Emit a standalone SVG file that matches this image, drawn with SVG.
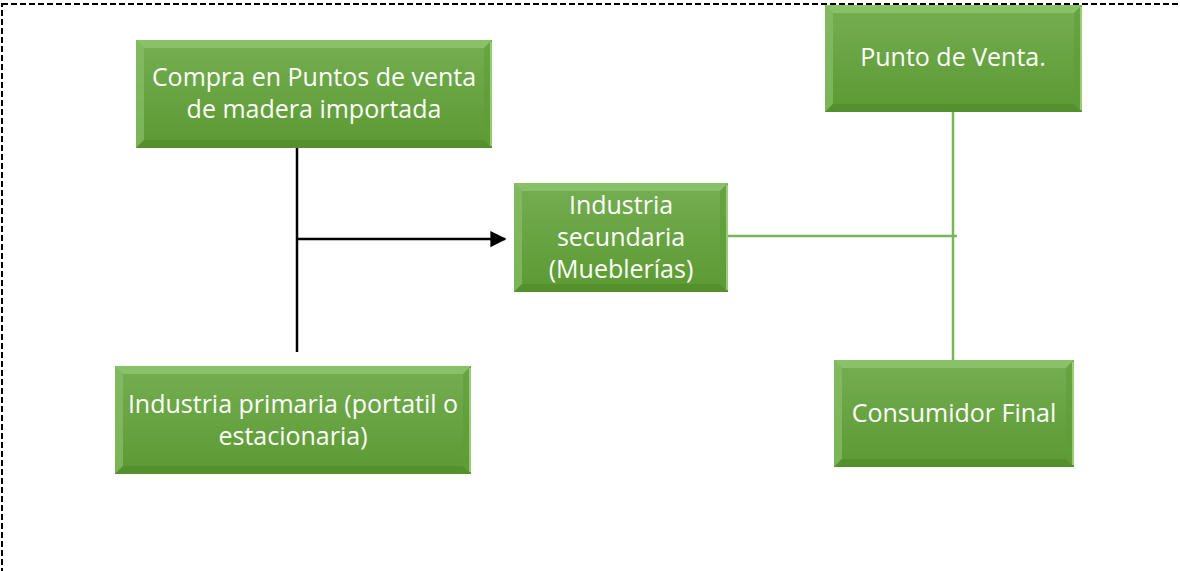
<svg xmlns="http://www.w3.org/2000/svg" width="1180" height="571" viewBox="0 0 1180 571">
<style>
.face{fill:url(#g)}
.bt{fill:#8cc46c;opacity:0.85}
.bl{fill:#86be66;opacity:0.75}
.bb{fill:#4f8a2a;opacity:0.6}
.br{fill:#5e9c38;opacity:0.6}
.hl{stroke:#a8dc88;stroke-width:1.5}
.t{font-family:"Open Sans","Liberation Sans",sans-serif;font-size:25px;fill:#ffffff;text-anchor:middle}
.blk{stroke:#000;stroke-width:2.5;fill:none}
.grn{stroke:#7ab55c;stroke-width:2.5;fill:none}
</style>
<defs>
<linearGradient id="g" x1="0" y1="0" x2="0" y2="1">
<stop offset="0" stop-color="#75ae52"/>
<stop offset="1" stop-color="#5b9a32"/>
</linearGradient>
<marker id="ah" viewBox="0 0 10 10" refX="9" refY="5" markerWidth="6.5" markerHeight="7" markerUnits="strokeWidth" orient="auto">
<path d="M0,0 L10,5 L0,10 z" fill="#000"/>
</marker>
</defs>
<rect x="2" y="4" width="1190" height="580" fill="none" stroke="#000" stroke-width="2" stroke-dasharray="6,3"/>
<g id="connectors">
<line class="blk" x1="297" y1="138" x2="297" y2="352"/>
<line class="blk" x1="297" y1="239" x2="505" y2="239" marker-end="url(#ah)"/>
<line class="grn" x1="953" y1="112" x2="953" y2="360"/>
<line class="grn" x1="728" y1="236" x2="957" y2="236"/>
</g>
<g id="n1">
<rect class="face" x="136" y="40" width="356" height="108"/>
<polygon class="bt" points="136,40 492,40 484,48 144,48"/>
<polygon class="bl" points="136,40 144,48 144,140 136,148"/>
<polygon class="bb" points="136,148 144,140 484,140 492,148"/>
<polygon class="br" points="492,40 492,148 484,140 484,48"/>
<line class="hl" x1="491" y1="42" x2="491" y2="146"/>
<text class="t" x="314" y="86">Compra en Puntos de venta</text>
<text class="t" x="314" y="118">de madera importada</text>
</g>
<g id="n2">
<rect class="face" x="514" y="183" width="214" height="109"/>
<polygon class="bt" points="514,183 728,183 720,191 522,191"/>
<polygon class="bl" points="514,183 522,191 522,284 514,292"/>
<polygon class="bb" points="514,292 522,284 720,284 728,292"/>
<polygon class="br" points="728,183 728,292 720,284 720,191"/>
<line class="hl" x1="727" y1="185" x2="727" y2="290"/>
<text class="t" x="621" y="214">Industria</text>
<text class="t" x="621" y="246">secundaria</text>
<text class="t" x="621" y="278">(Mueblerías)</text>
</g>
<g id="n3">
<rect class="face" x="825" y="5" width="257" height="107"/>
<polygon class="bt" points="825,5 1082,5 1074,13 833,13"/>
<polygon class="bl" points="825,5 833,13 833,104 825,112"/>
<polygon class="bb" points="825,112 833,104 1074,104 1082,112"/>
<polygon class="br" points="1082,5 1082,112 1074,104 1074,13"/>
<line class="hl" x1="1081" y1="7" x2="1081" y2="110"/>
<text class="t" x="953" y="66">Punto de Venta.</text>
</g>
<g id="n4">
<rect class="face" x="115" y="366" width="356" height="108"/>
<polygon class="bt" points="115,366 471,366 463,374 123,374"/>
<polygon class="bl" points="115,366 123,374 123,466 115,474"/>
<polygon class="bb" points="115,474 123,466 463,466 471,474"/>
<polygon class="br" points="471,366 471,474 463,466 463,374"/>
<line class="hl" x1="470" y1="368" x2="470" y2="472"/>
<text class="t" x="293" y="413">Industria primaria (portatil o</text>
<text class="t" x="293" y="445">estacionaria)</text>
</g>
<g id="n5">
<rect class="face" x="834" y="360" width="240" height="107"/>
<polygon class="bt" points="834,360 1074,360 1066,368 842,368"/>
<polygon class="bl" points="834,360 842,368 842,459 834,467"/>
<polygon class="bb" points="834,467 842,459 1066,459 1074,467"/>
<polygon class="br" points="1074,360 1074,467 1066,459 1066,368"/>
<line class="hl" x1="1073" y1="362" x2="1073" y2="465"/>
<text class="t" x="954" y="422">Consumidor Final</text>
</g>
</svg>
